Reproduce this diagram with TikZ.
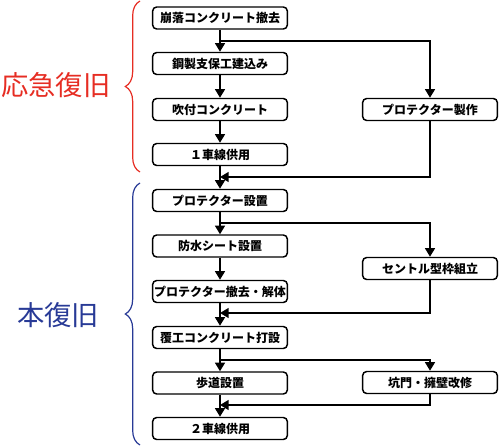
\documentclass[tikz,border=0pt]{standalone}
\usepackage{fontspec}
\setmainfont{Noto Sans CJK JP}
\usetikzlibrary{arrows.meta,decorations.pathreplacing}
\definecolor{kinkyu}{RGB}{230,45,35}
\definecolor{honfk}{RGB}{40,58,150}
\begin{document}
\begin{tikzpicture}[x=0.75pt,y=-0.75pt,
  koutei/.style={draw,line width=1.1pt,rounded corners=3pt,minimum width=101pt,minimum height=16.5pt,inner sep=0pt,font=\fontsize{9}{10}\selectfont\bfseries},
  ya/.style={line width=1.1pt,-{Triangle[width=7.5pt,length=6.5pt]}},
  kakko/.style={line width=0.9pt,decorate,decoration={brace,amplitude=11pt}},
  midashi/.style={font=\fontsize{20.5}{24}\selectfont}]

\useasboundingbox (0,0) rectangle (500,446);

\node[koutei] (b1) at (220,18) {崩落コンクリート撤去};
\node[koutei] (b2) at (220,63.5) {鋼製支保工建込み};
\node[koutei] (b3) at (220,109.5) {吹付コンクリート};
\node[koutei] (b4) at (220,154.5) {１車線供用};
\node[koutei] (b5) at (220,200.5) {プロテクター設置};
\node[koutei] (b6) at (220,246) {防水シート設置};
\node[koutei] (b7) at (220,291.5) {プロテクター撤去・解体};
\node[koutei] (b8) at (220,337.5) {覆工コンクリート打設};
\node[koutei] (b9) at (220,383) {歩道設置};
\node[koutei] (b10) at (220,428.5) {２車線供用};

\node[koutei] (r1) at (430,109.5) {プロテクター製作};
\node[koutei] (r2) at (430,268.5) {セントル型枠組立};
\node[koutei] (r3) at (430,382.5) {坑門・擁壁改修};

\coordinate (w1) at (220,41);
\coordinate (g1) at (220,177);
\coordinate (w2) at (220,223);
\coordinate (g2) at (220,313);
\coordinate (w3) at (220,360);
\coordinate (g3) at (220,405);

\draw[ya] (b1) -- (b2);
\draw[ya] (b2) -- (b3);
\draw[ya] (b3) -- (b4);
\draw[ya] (b4) -- (b5);
\draw[ya] (b5) -- (b6);
\draw[ya] (b6) -- (b7);
\draw[ya] (b7) -- (b8);
\draw[ya] (b8) -- (b9);
\draw[ya] (b9) -- (b10);

\draw[ya] (w1) -| (r1.north);
\draw[ya] (r1.south) |- (g1);
\draw[ya] (w2) -| (r2.north);
\draw[ya] (r2.south) |- (g2);
\draw[ya] (w3) -| (r3.north);
\draw[ya] (r3.south) |- (g3);

\draw[kakko,kinkyu] (140,172) -- (140,1);
\draw[kakko,honfk] (140,445) -- (140,183);

\node[midashi,text=kinkyu] (oukyu) at (56,85) {応急復旧};
\node[midashi,text=honfk] (honkyu) at (58,315) {本復旧};
\end{tikzpicture}
\end{document}
